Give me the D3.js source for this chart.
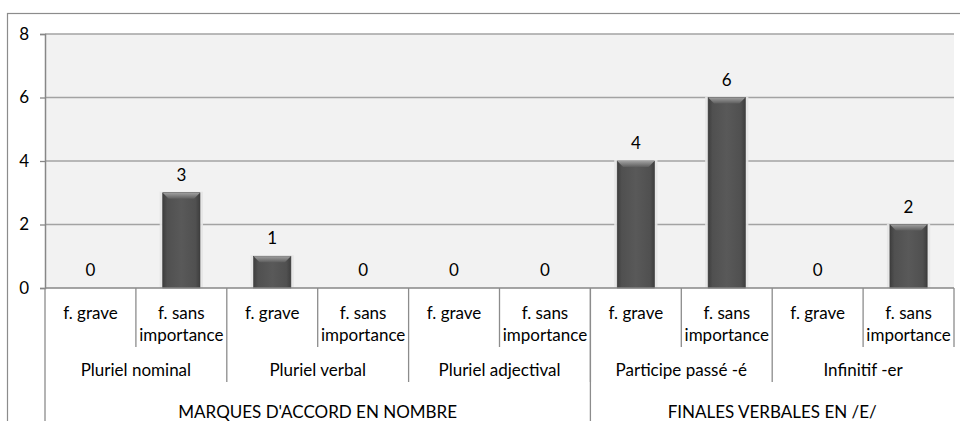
<!DOCTYPE html>
<html>
<head>
<meta charset="utf-8">
<script src="https://cdn.jsdelivr.net/npm/d3@7"></script>
<style>
  body { margin: 0; background: #fff; }
  svg text { font-family: Lato, "Open Sans", sans-serif; font-size: 17px; fill: #000; }
</style>
</head>
<body>
<svg id="chart" width="960" height="421"></svg>
<script>
// data
const subCats = ["f. grave", "f. sans importance", "f. grave", "f. sans importance", "f. grave",
  "f. sans importance", "f. grave", "f. sans importance", "f. grave", "f. sans importance"];
const groups = ["Pluriel nominal", "Pluriel verbal", "Pluriel adjectival", "Participe passé -é", "Infinitif -er"];
const supers = ["MARQUES D'ACCORD EN NOMBRE", "FINALES VERBALES EN /E/"];
const superSpan = [3, 2]; // number of groups under each top label
const values = [0, 3, 1, 0, 0, 0, 4, 6, 0, 2];
const yTicks = [0, 2, 4, 6, 8];

const svg = d3.select("#chart");
const plot = {left: 45, right: 954, top: 34, bottom: 288};

// outer frame (runs off the picture right and bottom)
svg.append("rect")
  .attr("x", 7.5).attr("y", 13.5)
  .attr("width", 1000).attr("height", 600)
  .attr("fill", "#fff")
  .attr("stroke", "#8c8c8c")
  .attr("stroke-width", 1.2);

// scales
const x = d3.scaleBand()
  .domain(values.map((d, i) => i))
  .range([plot.left, plot.right])
  .padding(0);

const y = d3.scaleLinear()
  .domain([0, 8])
  .range([plot.bottom, plot.top]);

// plot background
svg.append("rect")
  .attr("x", plot.left).attr("y", plot.top)
  .attr("width", plot.right - plot.left)
  .attr("height", plot.bottom - plot.top)
  .attr("fill", "#f2f2f2");

// gridlines
svg.append("g")
  .selectAll("line")
  .data(yTicks.filter(d => d > 0))
  .enter()
  .append("line")
  .attr("x1", plot.left).attr("x2", plot.right)
  .attr("y1", d => y(d)).attr("y2", d => y(d))
  .attr("stroke", "#a3a3a3")
  .attr("stroke-width", 1.3);

// y axis
const yAxis = d3.axisLeft(y).tickValues(yTicks).tickSize(5).tickPadding(11);
const gy = svg.append("g")
  .attr("transform", `translate(${plot.left}, 0)`)
  .call(yAxis);
gy.select(".domain").attr("stroke", "#878787").attr("stroke-width", 1.5);
gy.selectAll(".tick line").attr("stroke", "#878787").attr("stroke-width", 1.3);
gy.selectAll(".tick text")
  .attr("font-family", null).attr("font-size", null)
  .style("font-size", "17px").style("font-family", "Lato, sans-serif")
  .attr("fill", "#000");

// bar gradients
const defs = svg.append("defs");
const grad = defs.append("linearGradient").attr("id", "barGrad")
  .attr("x1", "0").attr("x2", "1").attr("y1", "0").attr("y2", "0");
grad.append("stop").attr("offset", "0%").attr("stop-color", "#3e3e3e");
grad.append("stop").attr("offset", "12%").attr("stop-color", "#505050");
grad.append("stop").attr("offset", "50%").attr("stop-color", "#595959");
grad.append("stop").attr("offset", "88%").attr("stop-color", "#505050");
grad.append("stop").attr("offset", "100%").attr("stop-color", "#3e3e3e");
const bevel = defs.append("linearGradient").attr("id", "bevelGrad")
  .attr("x1", "0").attr("x2", "0").attr("y1", "0").attr("y2", "1");
bevel.append("stop").attr("offset", "0%").attr("stop-color", "#a0a0a0");
bevel.append("stop").attr("offset", "100%").attr("stop-color", "#5e5e5e");

const barW = x.bandwidth() * 0.41;
const bx = i => x(i) + (x.bandwidth() - barW) / 2;

// bars (zero values draw nothing)
values.forEach((d, i) => {
  if (d <= 0) return;
  const g = svg.append("g");
  // soft shadow
  g.append("rect")
    .attr("x", bx(i) - 3).attr("y", y(d) - 1)
    .attr("width", barW + 6).attr("height", y(0) - y(d) + 1)
    .attr("fill", "#e6e6e6").attr("opacity", 0.9);
  g.append("rect")
    .attr("x", bx(i)).attr("y", y(d))
    .attr("width", barW).attr("height", y(0) - y(d))
    .attr("fill", "url(#barGrad)")
    .attr("stroke", "#3a3a3a").attr("stroke-width", 0.6);
  // bevel at the top
  const t = y(d), l = bx(i), r = bx(i) + barW;
  g.append("polygon")
    .attr("points", [[l, t], [r, t], [r - 6, t + 6], [l + 6, t + 6]].map(p => p.join(",")).join(" "))
    .attr("fill", "url(#bevelGrad)");
});

// data labels
svg.append("g").selectAll("text")
  .data(values)
  .enter()
  .append("text")
  .attr("x", (d, i) => x(i) + x.bandwidth() / 2)
  .attr("y", d => y(d) - 12)
  .attr("text-anchor", "middle")
  .text(d => d);

// x axis baseline
svg.append("line")
  .attr("x1", plot.left).attr("x2", plot.right)
  .attr("y1", y(0)).attr("y2", y(0))
  .attr("stroke", "#878787").attr("stroke-width", 1.5);

// level 1 labels
const lvl1 = svg.append("g");
subCats.forEach((c, i) => {
  const t = lvl1.append("text")
    .attr("x", x(i) + x.bandwidth() / 2)
    .attr("y", 319)
    .attr("text-anchor", "middle");
  const parts = c === "f. sans importance" ? ["f. sans", "importance"] : [c];
  parts.forEach((p, k) => {
    t.append("tspan").attr("x", x(i) + x.bandwidth() / 2).attr("dy", k === 0 ? 0 : 22).text(p);
  });
});

// separators
const sepColor = "#8c8c8c";
const step = x.step();
// slot boundaries: short ones inside a group, longer ones between groups
d3.range(1, values.length + 1).forEach(i => {
  svg.append("line")
    .attr("x1", plot.left + i * step).attr("x2", plot.left + i * step)
    .attr("y1", y(0)).attr("y2", i % 2 === 0 && i < values.length ? 382 : 347)
    .attr("stroke", sepColor).attr("stroke-width", 1.3);
});
// left edge and top level divider run down to the bottom
[0, superSpan[0] * 2].forEach(i => {
  svg.append("line")
    .attr("x1", plot.left + i * step).attr("x2", plot.left + i * step)
    .attr("y1", y(0)).attr("y2", 421)
    .attr("stroke", sepColor).attr("stroke-width", 1.3);
});

// level 2 labels
svg.append("g").selectAll("text")
  .data(groups)
  .enter()
  .append("text")
  .attr("x", (d, i) => plot.left + (i * 2 + 1) * step)
  .attr("y", 376)
  .attr("text-anchor", "middle")
  .text(d => d);

// level 3 labels
let start = 0;
supers.forEach((s, k) => {
  const n = superSpan[k] * 2;
  svg.append("text")
    .attr("x", plot.left + (start + n / 2) * step)
    .attr("y", 418)
    .attr("text-anchor", "middle")
    .text(s);
  start += n;
});
</script>
</body>
</html>
